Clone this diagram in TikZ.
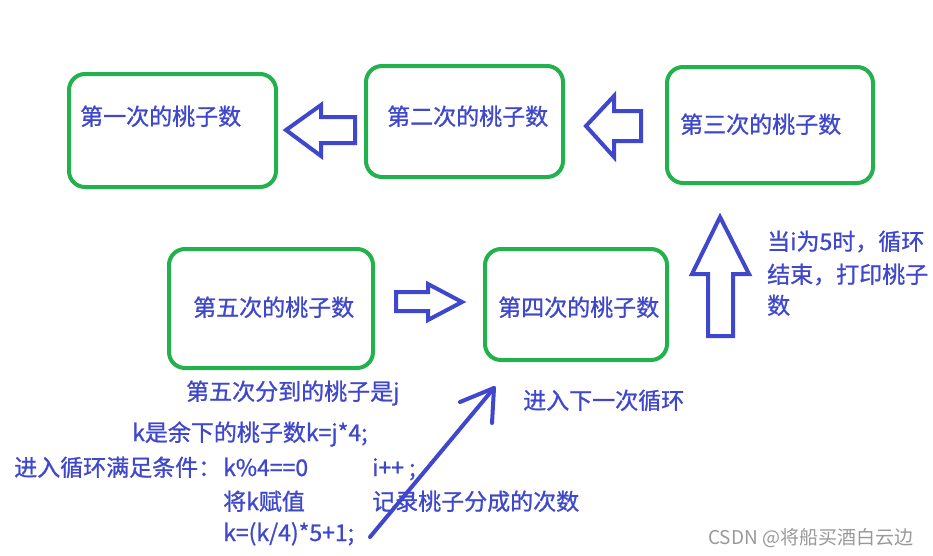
\documentclass[tikz,border=0pt]{standalone}
\usepackage{fontspec}
\setmainfont{Noto Sans CJK SC}
\newfontfamily\lblfont[FakeBold=1]{Noto Sans CJK SC}
\definecolor{pgreen}{HTML}{22B14C}
\definecolor{pblue}{HTML}{3F48CC}
\begin{document}
\begin{tikzpicture}[x=1pt,y=-1pt,
  box/.style={draw=pgreen, line width=4pt, rounded corners=16pt, inner sep=0pt},
  lbl/.style={text=pblue, font=\lblfont\fontsize{23}{26}\selectfont, inner sep=0pt, anchor=base west},
  barrow/.style={draw=pblue, line width=4pt, line join=miter},
  wm/.style={text=black!40, font=\fontsize{19}{22}\selectfont, inner sep=0pt, anchor=base west}]
\fill[white] (0,0) rectangle (933,555);
\useasboundingbox (0,0) rectangle (933,555);
% boxes
\node[box, minimum width=207pt, minimum height=113pt] (b1) at (172.5,130.5) {};
\node[box, minimum width=197pt, minimum height=111pt] (b2) at (464.5,121.5) {};
\node[box, minimum width=206pt, minimum height=116pt] (b3) at (770,125) {};
\node[box, minimum width=182pt, minimum height=111pt] (b4) at (576,304.5) {};
\node[box, minimum width=204pt, minimum height=119pt] (b5) at (271,308.5) {};
% box texts
\node[lbl] (t1) at (80,125) {第一次的桃子数};
\node[lbl] (t2) at (387,125) {第二次的桃子数};
\node[lbl] (t3) at (680,133) {第三次的桃子数};
\node[lbl] (t4) at (498,316) {第四次的桃子数};
\node[lbl] (t5) at (193,316) {第五次的桃子数};
% block arrows
\draw[barrow] (286,130) -- (321,105) -- (321,117) -- (355,117) -- (355,143) -- (321,143) -- (321,156) -- cycle;
\draw[barrow] (586,126) -- (614,96) -- (614,111) -- (641,111) -- (641,141) -- (614,141) -- (614,157) -- cycle;
\draw[barrow] (462,302) -- (428,284) -- (428,292) -- (396,292) -- (396,311) -- (428,311) -- (428,320) -- cycle;
\draw[barrow] (720,217) -- (749,274) -- (733,274) -- (733,336) -- (708,336) -- (708,274) -- (692,274) -- cycle;
% side note
\node[lbl] (n1) at (767,250) {当i为5时，循环};
\node[lbl] (n2) at (767,283) {结束，打印桃子};
\node[lbl] (n3) at (767,314) {数};
% bottom texts
\node[lbl] (c1) at (186,400) {第五次分到的桃子是j};
\node[lbl] (c2) at (132,441) {k是余下的桃子数k=j*4;};
\node[lbl] (c3) at (14,476) {进入循环满足条件：};
\node[lbl] (c4) at (223,476) {k\%4==0};
\node[lbl] (c5) at (372,476) {i++ ;};
\node[lbl] (c6) at (223,510) {将k赋值};
\node[lbl] (c7) at (372,510) {记录桃子分成的次数};
\node[lbl] (c8) at (223,541) {k=(k/4)*5+1;};
\node[lbl] (c9) at (523,409) {进入下一次循环};
% line arrow
\coordinate (ls) at (370,537);
\coordinate (le) at (494,388);
\draw[pblue, line width=4pt, line cap=round, line join=round] (ls) -- (le);
\draw[pblue, line width=4pt, line cap=round, line join=round] (460,402) -- (le) -- (492,423);
% watermark
\node[wm] (w) at (708,544) {CSDN @将船买酒白云边};
\end{tikzpicture}
\end{document}
